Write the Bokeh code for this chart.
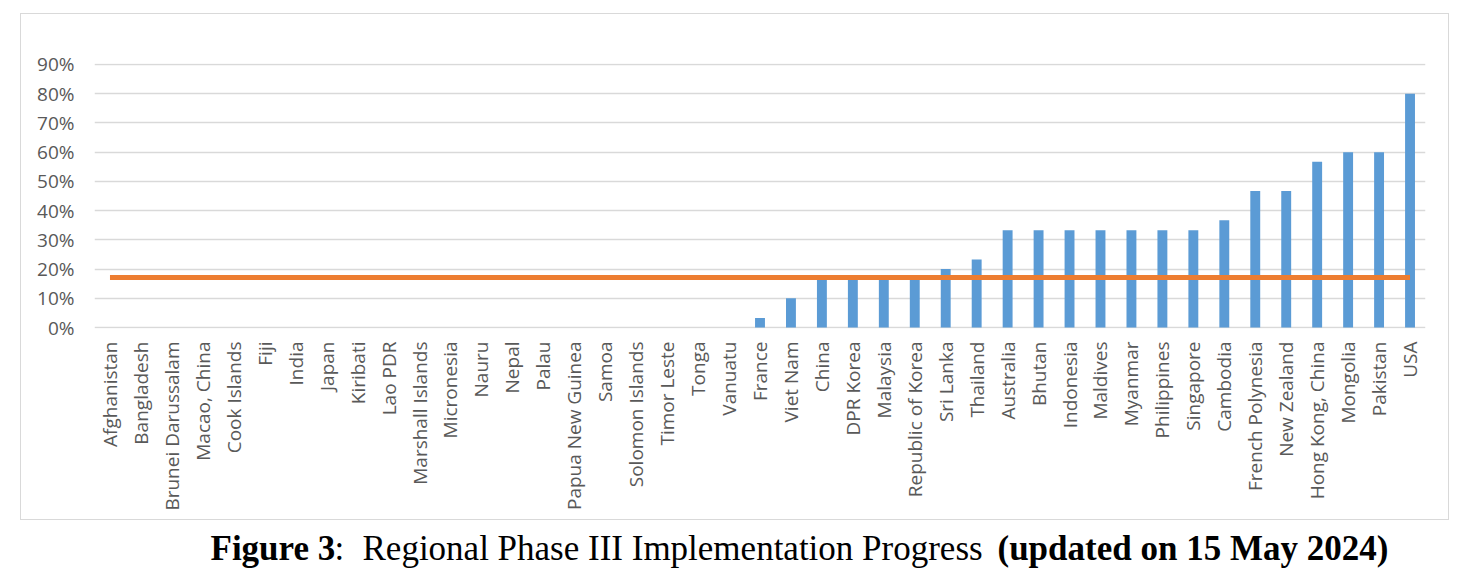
from bokeh.plotting import figure
from bokeh.layouts import column
from bokeh.models import (FactorRange, Range1d, FixedTicker, NumeralTickFormatter,
                          Label, ColumnDataSource)
from bokeh.embed import file_html
from bokeh.resources import INLINE
import math

countries = ["Afghanistan", "Bangladesh", "Brunei Darussalam", "Macao, China", "Cook Islands",
             "Fiji", "India", "Japan", "Kiribati", "Lao PDR", "Marshall Islands", "Micronesia",
             "Nauru", "Nepal", "Palau", "Papua New Guinea", "Samoa", "Solomon Islands",
             "Timor Leste", "Tonga", "Vanuatu", "France", "Viet Nam", "China", "DPR Korea",
             "Malaysia", "Republic of Korea", "Sri Lanka", "Thailand", "Australia", "Bhutan",
             "Indonesia", "Maldives", "Myanmar", "Philippines", "Singapore", "Cambodia",
             "French Polynesia", "New Zealand", "Hong Kong, China", "Mongolia", "Pakistan", "USA"]
progress = [0, 0, 0, 0, 0, 0, 0, 0, 0, 0, 0, 0, 0, 0, 0, 0, 0, 0, 0, 0, 0,
            0.0333, 0.10, 0.1667, 0.1667, 0.1667, 0.1667, 0.20, 0.2333, 0.3333, 0.3333,
            0.3333, 0.3333, 0.3333, 0.3333, 0.3333, 0.3667, 0.4667, 0.4667, 0.5667,
            0.60, 0.60, 0.80]
regional_average = 0.171
y_ticks = [0, 0.1, 0.2, 0.3, 0.4, 0.5, 0.6, 0.7, 0.8, 0.9]
caption_bold_1 = "Figure 3"
caption_colon = ":"
caption_regular = "Regional Phase III Implementation Progress"
caption_bold_2 = "(updated on 15 May 2024)"

p = figure(x_range=FactorRange(*countries, range_padding=0),
           y_range=Range1d(-0.003, 0.903), title=None,
           width=1429, height=507, output_backend="svg", toolbar_location=None,
           min_border_left=73, min_border_right=25, min_border_top=49, min_border_bottom=193)
p.margin = (13, 0, 0, 20)
p.styles = {"border": "1.5px solid #d9d9d9"}

src = ColumnDataSource(dict(country=countries, value=progress))
p.vbar(x="country", top="value", width=0.32, source=src,
       fill_color="#5B9BD5", line_color=None)
p.line(x=[countries[0], countries[-1]], y=[regional_average, regional_average],
       line_color="#ED7D31", line_width=5)

p.outline_line_color = None
p.background_fill_color = "white"
p.border_fill_color = "white"
p.xgrid.grid_line_color = None
p.ygrid.grid_line_color = "#d9d9d9"
p.ygrid.grid_line_width = 1.5
p.ygrid.level = "underlay"

p.yaxis.ticker = FixedTicker(ticks=y_ticks)
p.yaxis.formatter = NumeralTickFormatter(format="0%")
for ax in (p.xaxis, p.yaxis):
    ax.axis_line_color = None
    ax.major_tick_line_color = None
    ax.minor_tick_line_color = None
    ax.major_tick_out = 0
    ax.major_tick_in = 0
    ax.major_label_text_font = "Open Sans"
    ax.major_label_text_font_size = "19px"
    ax.major_label_text_color = "#595959"
p.yaxis.major_label_standoff = 20
p.xaxis.major_label_standoff = 13
p.xaxis.major_label_orientation = math.pi / 2

# caption figure
CW, CH = 1460, 50
c = figure(frame_width=CW, frame_height=CH, x_range=Range1d(0, CW), y_range=Range1d(CH, 0),
           title=None, output_backend="svg", toolbar_location=None,
           x_axis_type=None, y_axis_type=None,
           min_border=0, min_border_left=0, min_border_right=0,
           min_border_top=0, min_border_bottom=0)
c.outline_line_color = None
c.xgrid.grid_line_color = None
c.ygrid.grid_line_color = None
c.margin = (0, 0, 0, 0)

base_y = 28
for txt, x, style in [(caption_bold_1, 210, "bold"), (caption_colon, 334, "normal"),
                      (caption_regular, 362, "normal"), (caption_bold_2, 997, "bold")]:
    c.add_layout(Label(x=x, y=base_y, x_units="canvas", y_units="canvas", text=txt,
                       text_font="Liberation Serif", text_font_size="35px",
                       text_font_style=style, text_color="black",
                       text_baseline="alphabetic", text_align="left"))

layout = column(p, c, spacing=0)
open("out.html", "w").write(file_html(layout, INLINE))
